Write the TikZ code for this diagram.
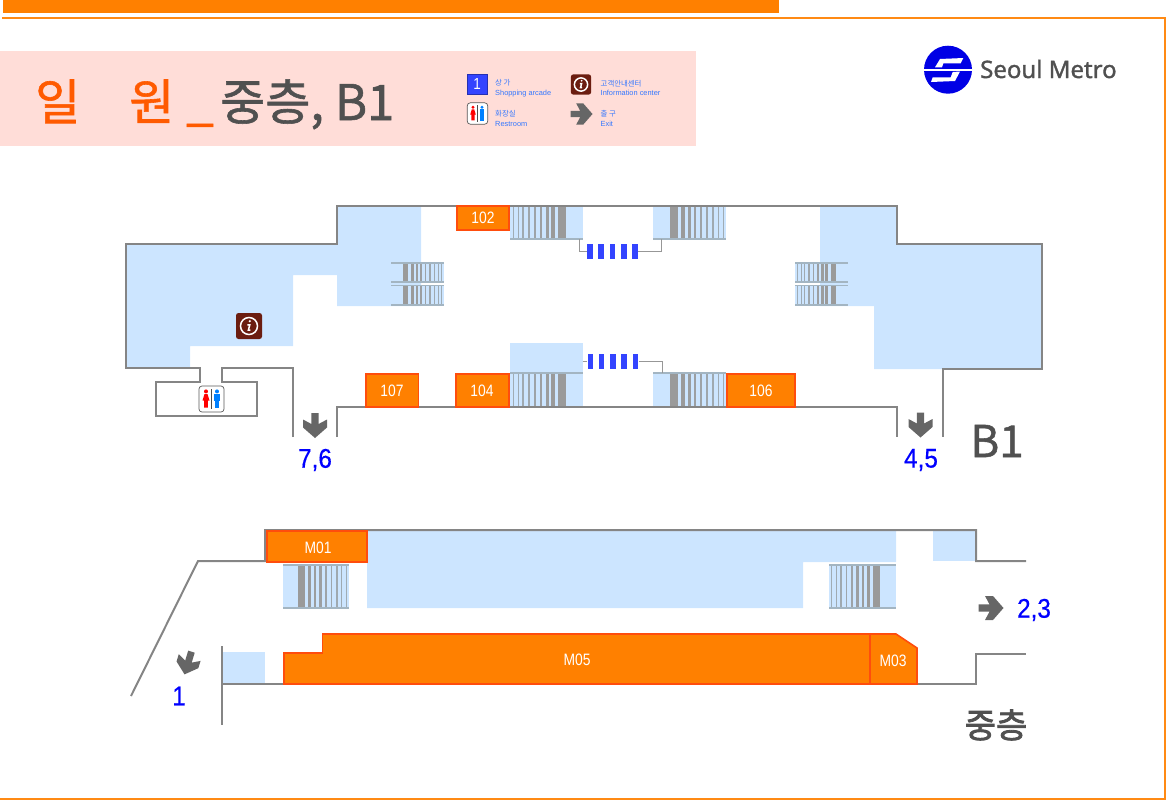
\documentclass[tikz,border=0pt]{standalone}
\usepackage{fontspec}
\setmainfont{Liberation Sans}
\newfontfamily\korfont{Noto Sans CJK KR}
\newfontfamily\kormed[FakeBold=1.2]{Noto Sans CJK KR}
\newfontfamily\korheavy[FakeBold=2.4]{Noto Sans CJK KR}
\newfontfamily\logofont[FakeBold=1.4]{Noto Sans}
\newfontfamily\narrowfont[FakeStretch=0.84]{Liberation Sans}
\newfontfamily\exitfont[FakeStretch=0.9,FakeBold=0.5]{Liberation Sans}
\definecolor{framecol}{HTML}{FF8A14}
\definecolor{barcol}{HTML}{FF8000}
\definecolor{shopedge}{HTML}{FF4D0D}
\definecolor{pinkcol}{HTML}{FFDDD8}
\definecolor{floorcol}{HTML}{CCE5FF}
\definecolor{wallcol}{HTML}{858585}
\definecolor{railcol}{HTML}{A3B5C2}
\definecolor{stepcol}{HTML}{9A9A9A}
\definecolor{gatecol}{HTML}{3344FF}
\definecolor{infocol}{HTML}{6B1D10}
\definecolor{greytext}{HTML}{505050}
\definecolor{titlecol}{HTML}{FF5A00}
\definecolor{legendcol}{HTML}{3377FF}
\definecolor{arrowcol}{HTML}{666666}
\tikzset{
  wall/.style={draw=wallcol,line width=2pt},
  thinwall/.style={draw=wallcol!85,line width=1pt},
  rail/.style={draw=railcol,line width=1.4pt},
  shop/.style={fill=barcol,draw=shopedge,line width=1.6pt},
  shoplabel/.style={text=white,font=\narrowfont\fontsize{16.5}{16.5}\selectfont},
  exitlabel/.style={text=blue,font=\exitfont\fontsize{27}{27}\selectfont},
  legendlabel/.style={text=legendcol,anchor=west,align=left,inner sep=0pt,font=\fontsize{7.4}{9.5}\selectfont},
}
% steps of an escalator: #1 origin x, #2 top, #3 bottom, #4 direction and scale
\newcommand{\stairs}[4]{
  \begin{scope}[shift={(#1,0)},xscale=#4]
    \foreach \off/\wid/\tone in {3/1/35,8/1/40,13/1.2/45,19/1.6/55,25/2/65,31/2.6/80,37/3/90,43/4/100,52/7.5/100}
      \fill[stepcol!\tone!railcol] (\off-\wid/2,#2) rectangle (\off+\wid/2,#3);
  \end{scope}
}
\newcommand{\exitarrow}[4]{
  \fill[arrowcol,shift={(#1,#2)},rotate=#3,scale=#4] (-3.6,-12.5) -- (3.6,-12.5) -- (3.6,-1.5) -- (12,-6) -- (12,2) -- (0,12.5) -- (-12,2) -- (-12,-6) -- (-3.6,-1.5) -- cycle;
}
\newcommand{\infoicon}[3]{
  \begin{scope}[shift={(#1,#2)},scale=#3]
    \fill[infocol,rounded corners=2.5pt] (-13,-13) rectangle (13,13);
    \draw[white,line width=1.5pt] (0,0) circle (8.5);
    \fill[white] (0.8,-4.8) circle (1.2);
    \draw[white,line width=1.5pt] (-1.6,-1.2) -- (0.8,-1.2) -- (-0.6,4) -- (1.4,4);
  \end{scope}
}
\newcommand{\restroom}[3]{
  \begin{scope}[shift={(#1,#2)},scale=#3]
    \draw[draw=black!65,fill=white,rounded corners=3pt,line width=.7pt] (-12.5,-13) rectangle (12.5,13);
    \draw[black!70,line width=1.2pt] (0,-10) -- (0,10);
    \fill[red] (-5.5,-7.6) circle (2);
    \fill[red] (-7,-5) -- (-4,-5) -- (-2,1.5) -- (-3.6,1.5) -- (-3.6,8.5) -- (-7.4,8.5) -- (-7.4,1.5) -- (-9,1.5) -- cycle;
    \fill[blue!50!cyan] (5.5,-7.6) circle (2);
    \fill[blue!50!cyan] (2.5,-5) rectangle (8.5,1.5);
    \fill[blue!50!cyan] (3.6,0) rectangle (7.4,9);
  \end{scope}
}

\begin{document}
\begin{tikzpicture}[line cap=butt,line join=miter,x=1pt,y=-1pt]
  \useasboundingbox (0,0) rectangle (1166,801);
  % frame and header
  \fill[barcol] (3,0) rectangle (779,13);
  \draw[framecol,line width=2pt] (2,18) -- (1165,18) -- (1165,799) -- (0,799);
  \fill[pinkcol] (0,51) rectangle (696,146);
  \node[anchor=base west,inner sep=0pt,text=titlecol,font=\kormed\fontsize{49}{49}\selectfont] (titlename) at (35,120) {일\hspace{49pt}원\hspace{12pt}\_};
  \node[anchor=base west,inner sep=0pt,text=greytext,font=\kormed\fontsize{49}{49}\selectfont] (titlefloor) at (220,120) {중층, B1};
  % legend
  \draw[draw=gatecol!70!black,fill=gatecol,line width=1pt] (467,74) rectangle (487,94);
  \node[text=white,font=\narrowfont\fontsize{16}{16}\selectfont] (legendshop) at (477,84) {1};
  \node[legendlabel] (legendshoptext) at (495,88) {{\korfont 상 가}\\Shopping arcade};
  \infoicon{581}{84.5}{0.78}
  \node[legendlabel] (legendinfotext) at (600.5,88) {{\korfont 고객안내센터}\\Information center};
  \restroom{477.5}{113.5}{0.82}
  \node[legendlabel] (legendresttext) at (495,118.5) {{\korfont 화장실}\\Restroom};
  \exitarrow{581.5}{114}{90}{0.88}
  \node[legendlabel] (legendexittext) at (600.5,118.5) {{\korfont 출 구}\\Exit};
  % logo
  \fill[blue!90!black] (948,69.7) circle (24);
  \fill[white] (935,67.3) -- (940,59) -- (963.3,58) -- (960.7,63.3) -- (943.3,63.3) -- (942,67.3) -- cycle;
  \fill[white] (960,71.5) -- (955,81) -- (931,82) -- (932.7,77.3) -- (950.7,77.3) -- (952.7,72) -- cycle;
  \fill[white] (924,68.8) rectangle (972,70.6);
  \node[anchor=base west,inner sep=0pt,text=greytext,font=\logofont\fontsize{24}{24}\selectfont] (logotext) at (980,78) {Seoul Metro};
  % floor areas, B1
  \fill[floorcol] (126,244) -- (337,244) -- (337,206) -- (421,206) -- (421,306) -- (337,306) -- (337,275) -- (293,275) -- (293,346) -- (190,346) -- (190,368) -- (126,368) -- cycle;
  \fill[floorcol] (820,206) -- (897,206) -- (897,244) -- (1042,244) -- (1042,369) -- (874,369) -- (874,306) -- (820,306) -- cycle;
  \fill[floorcol] (510,343) rectangle (583,373);
  \foreach \xa/\ya/\xb/\yb in {510/206/583/239,653/206/726/239,510/373/583/406,653/373/726/406,403/263/444/282,403/286/444/305,795/263/836/282,795/286/836/305}
    \fill[floorcol] (\xa,\ya) rectangle (\xb,\yb);
  % floor areas, mezzanine
  \fill[floorcol] (367,530) -- (896,530) -- (896,562) -- (803,562) -- (803,608) -- (367,608) -- cycle;
  \fill[floorcol] (933,530) rectangle (976,561);
  \fill[floorcol] (283,565) rectangle (349,608);
  \fill[floorcol] (829,565) rectangle (896,608);
  \fill[floorcol] (223,652) rectangle (265,684);
  % escalators
  \stairs{510}{206}{239}{1}
  \stairs{726}{206}{239}{-1}
  \stairs{510}{373}{406}{1}
  \stairs{726}{373}{406}{-1}
  \stairs{444}{263}{282}{-0.74}
  \stairs{444}{286}{305}{-0.74}
  \stairs{795}{263}{282}{0.74}
  \stairs{795}{286}{305}{0.74}
  \stairs{349}{565}{608}{-0.92}
  \stairs{829}{565}{608}{0.92}
  \foreach \xa/\xb/\ya in {510/583/239,653/726/239,510/583/373,653/726/373,391/444/263,391/444/282,391/444/285.5,391/444/305,795/848/263,795/848/282,795/848/285.5,795/848/305,283/349/565,283/349/608,829/896/565,829/896/608}
    \draw[rail] (\xa,\ya) -- (\xb,\ya);
  % walls
  \draw[wall] (293,437) -- (293,368) -- (222,368) -- (222,382) -- (257,382) -- (257,416) -- (156,416) -- (156,382) -- (200,382) -- (200,368) -- (126,368) -- (126,244) -- (337,244) -- (337,206) -- (897,206) -- (897,244) -- (1042,244) -- (1042,369) -- (943,369) -- (943,437);
  \draw[wall] (337,437) -- (337,407) -- (897,407) -- (897,437);
  \draw[wall] (131,696) -- (198,561) -- (265,561) -- (265,530) -- (976,530) -- (976,561) -- (1026,561);
  \draw[wall] (222,646) -- (222,725);
  \draw[wall] (222,684) -- (284,684);
  \draw[wall] (917,684) -- (976,684) -- (976,654) -- (1026,654);
  % gates
  \foreach \i in {0,...,4} {
    \fill[gatecol] (587+11.3*\i,244) rectangle +(5.6,15.3);
    \fill[gatecol] (587.5+11.3*\i,353.7) rectangle +(5.6,15.3);
  }
  \draw[thinwall] (579.7,239) -- (579.7,251.7) -- (587,251.7);
  \draw[thinwall] (638,251.7) -- (661.7,251.7) -- (661.7,239);
  \draw[thinwall] (582.7,361.3) -- (587.3,361.3);
  \draw[thinwall] (639,361.3) -- (662,361.3) -- (662,373);
  % shops
  \draw[shop] (457,206) rectangle (509,230);
  \node[shoplabel] (shopa) at (483,218) {102};
  \draw[shop] (366,374) rectangle (418.5,407);
  \node[shoplabel] (shopb) at (392,391) {107};
  \draw[shop] (456,374) rectangle (509,407);
  \node[shoplabel] (shopc) at (482,391) {104};
  \draw[shop] (727,374) rectangle (795,407);
  \node[shoplabel] (shopd) at (761,391) {106};
  \draw[shop] (267,531) rectangle (367,562);
  \node[shoplabel] (shope) at (318,548) {M01};
  \draw[shop] (284,684) -- (284,653) -- (322.5,653) -- (322.5,634) -- (870,634) -- (870,684) -- cycle;
  \node[shoplabel] (shopf) at (577,660) {M05};
  \draw[shop] (870,634) -- (896,634) -- (917,648) -- (917,684) -- (870,684) -- cycle;
  \node[shoplabel] (shopg) at (893,661) {M03};
  % icons
  \infoicon{249}{326}{1}
  \restroom{211.5}{399}{1}
  % exits
  \exitarrow{315}{425.5}{0}{1}
  \node[exitlabel] (exita) at (315,460) {7,6};
  \exitarrow{920.5}{425}{0}{1}
  \node[exitlabel] (exitb) at (921,460) {4,5};
  \exitarrow{991}{608}{90}{1}
  \node[exitlabel] (exitc) at (1034,610) {2,3};
  \exitarrow{188}{663}{-17}{0.95}
  \node[exitlabel] (exitd) at (179,696) {1};
  % floor names
  \node[text=greytext,font=\kormed\fontsize{44}{44}\selectfont] (floorb) at (997,441) {B1};
  \node[text=greytext,font=\korheavy\fontsize{34}{34}\selectfont] (floorm) at (996,725) {중층};
\end{tikzpicture}
\end{document}
